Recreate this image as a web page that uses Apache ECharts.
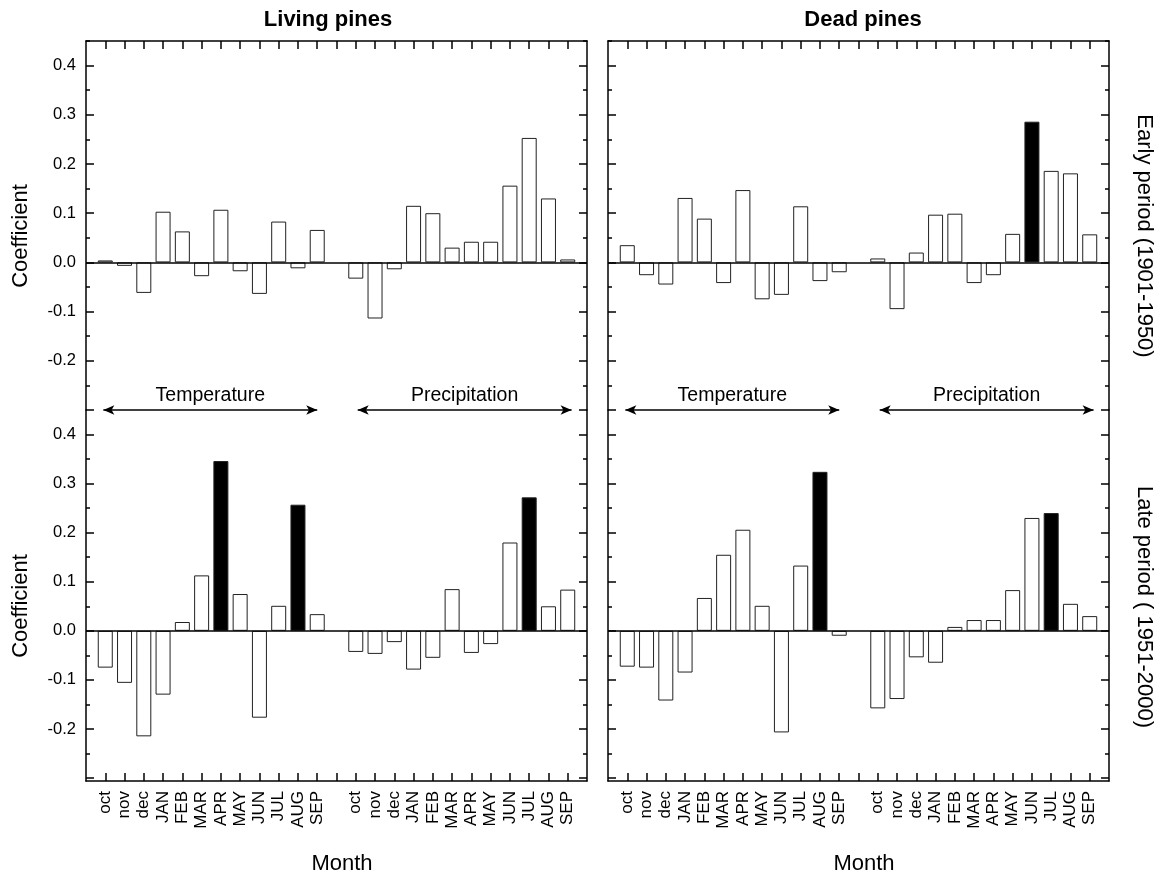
<!DOCTYPE html>
<html>
<head>
<meta charset="utf-8">
<script src="https://cdn.jsdelivr.net/npm/echarts@6/dist/echarts.min.js"></script>
<style>
html,body{margin:0;padding:0;background:#fff;}
#chart{width:1156px;height:875px;}
</style>
</head>
<body>
<div id="chart"></div>
<script>
// ---- Data ----
const months = ['oct','nov','dec','JAN','FEB','MAR','APR','MAY','JUN','JUL','AUG','SEP'];

const livingEarlyTemp = [0.004,-0.007,-0.062,0.103,0.063,-0.028,0.107,-0.018,-0.064,0.083,-0.012,0.066];
const livingEarlyPrec = [-0.033,-0.114,-0.014,0.115,0.100,0.030,0.042,0.042,0.156,0.253,0.130,0.006];
const deadEarlyTemp   = [0.035,-0.026,-0.045,0.131,0.089,-0.042,0.147,-0.075,-0.066,0.114,-0.038,-0.020];
const deadEarlyPrec   = [0.008,-0.095,0.020,0.097,0.099,-0.042,-0.026,0.058,0.286,0.186,0.181,0.057];
const livingLateTemp  = [-0.075,-0.106,-0.215,-0.130,0.018,0.113,0.346,0.075,-0.177,0.051,0.257,0.034];
const livingLatePrec  = [-0.043,-0.047,-0.023,-0.079,-0.055,0.085,-0.045,-0.027,0.180,0.272,0.050,0.084];
const deadLateTemp    = [-0.073,-0.075,-0.142,-0.085,0.067,0.155,0.206,0.051,-0.207,0.133,0.324,-0.010];
const deadLatePrec    = [-0.158,-0.139,-0.054,-0.065,0.008,0.022,0.022,0.083,0.230,0.240,0.055,0.030];

// significant (black) bars
const sigLivingEarlyTemp = [];
const sigLivingEarlyPrec = [];
const sigDeadEarlyTemp = [];
const sigDeadEarlyPrec = ['JUN'];
const sigLivingLateTemp = ['APR','AUG'];
const sigLivingLatePrec = ['JUL'];
const sigDeadLateTemp = ['AUG'];
const sigDeadLatePrec = ['JUL'];

const yMajorTicks = [-0.3,-0.2,-0.1,0,0.1,0.2,0.3,0.4];
const yMinorTicks = [-0.25,-0.15,-0.05,0.05,0.15,0.25,0.35,0.45];
const yLabelTicks = [-0.2,-0.1,0,0.1,0.2,0.3,0.4];

const groupNames = ['Temperature','Precipitation'];
const colTitles = ['Living pines','Dead pines'];
const rowTitles = ['Early period (1901-1950)','Late period ( 1951-2000)'];

// ---- Layout ----
const FONT = "'Liberation Sans', Arial, Helvetica, sans-serif";
const tempPos = months.map((m,i)=>i+1);     // 1..12
const precPos = months.map((m,i)=>i+14);    // 14..25
const allTickX = []; for (let k=1;k<=25;k++) allTickX.push(k);
const labelX = tempPos.concat(precPos);
const labelMap = {};
tempPos.forEach((p,i)=>labelMap[p]=months[i]);
precPos.forEach((p,i)=>labelMap[p]=months[i]);

const panels = [
  {grid:{left:86, top:41, width:501, height:369}, early:true, labels:true, min:-0.3, max:0.45,
   temp:livingEarlyTemp, prec:livingEarlyPrec, sigT:sigLivingEarlyTemp, sigP:sigLivingEarlyPrec},
  {grid:{left:86, top:410, width:501, height:371}, early:false, labels:true, min:-0.306, max:0.45,
   temp:livingLateTemp, prec:livingLatePrec, sigT:sigLivingLateTemp, sigP:sigLivingLatePrec},
  {grid:{left:608, top:41, width:501, height:369}, early:true, labels:false, min:-0.3, max:0.45,
   temp:deadEarlyTemp, prec:deadEarlyPrec, sigT:sigDeadEarlyTemp, sigP:sigDeadEarlyPrec},
  {grid:{left:608, top:410, width:501, height:371}, early:false, labels:false, min:-0.306, max:0.45,
   temp:deadLateTemp, prec:deadLatePrec, sigT:sigDeadLateTemp, sigP:sigDeadLatePrec}
];

const lineS = {color:'#000', width:1.5};
const grids = [], xAxes = [], yAxes = [], series = [];

panels.forEach((p, i) => {
  grids.push(Object.assign({containLabel:false}, p.grid));
  xAxes.push({
    type:'value', gridIndex:i, min:0, max:26, position: p.early ? 'top' : 'bottom',
    axisLine:{show:true, onZero:false, lineStyle:lineS},
    axisTick:{show:true, inside:true, length:8, customValues:allTickX, lineStyle:lineS},
    axisLabel: p.early ? {show:false} : {
      show:true, rotate:90, customValues:labelX, margin:10,
      formatter:(v)=>labelMap[Math.round(v)] || '',
      fontSize:17, color:'#000', fontFamily:FONT
    },
    splitLine:{show:false}
  });
  const mkY = (pos, major) => ({
    type:'value', gridIndex:i, min:p.min, max:p.max, position:pos,
    axisLine:{show:major, onZero:false, lineStyle:lineS},
    axisTick:{show:true, inside:true, length: major ? 8 : 4,
      customValues: major ? yMajorTicks : yMinorTicks, lineStyle:lineS},
    axisLabel: (major && pos==='left' && p.labels) ? {
      show:true, customValues:yLabelTicks, margin:10,
      formatter:(v)=>v.toFixed(1), fontSize:16.5, color:'#000', fontFamily:FONT
    } : {show:false},
    splitLine:{show:false}
  });
  yAxes.push(mkY('left', true), mkY('left', false), mkY('right', true), mkY('right', false));

  const items = [];
  p.temp.forEach((v,k)=>items.push({value:[tempPos[k], v],
    itemStyle:{color: p.sigT.includes(months[k]) ? '#000' : '#fff'}}));
  p.prec.forEach((v,k)=>items.push({value:[precPos[k], v],
    itemStyle:{color: p.sigP.includes(months[k]) ? '#000' : '#fff'}}));

  const mlData = [{yAxis:0, lineStyle:{color:'#000', width:1.5, type:'solid'}, label:{show:false}}];
  if (p.early) {
    const spans = [[0.9, 12.0], [14.1, 25.2]];
    spans.forEach((s, g) => {
      mlData.push([
        {coord:[s[0], p.min], symbol:'arrow', symbolSize:[7,11],
         lineStyle:{color:'#000', width:1.5, type:'solid'},
         label:{show:true, position:'middle', formatter:groupNames[g], fontSize:19.5,
                color:'#000', fontFamily:FONT, distance:4}},
        {coord:[s[1], p.min], symbol:'arrow', symbolSize:[7,11]}
      ]);
    });
  }

  series.push({
    type:'bar', xAxisIndex:i, yAxisIndex:4*i, barWidth:15, clip:false,
    itemStyle:{borderColor:'#222', borderWidth:1},
    emphasis:{disabled:true},
    data:items,
    markLine:{silent:true, animation:false, symbol:['none','none'], data:mlData}
  });
});

const texts = [];
const txt = (t, x, y, size, rot, bold) => ({
  type:'text', x:x, y:y, rotation:rot||0, silent:true,
  style:{text:t, fill:'#000', font:(bold?'bold ':'') + size + 'px ' + FONT,
         textAlign:'center', textVerticalAlign:'middle', align:'center', verticalAlign:'middle'}
});
texts.push(txt(colTitles[0], 328, 20, 22, 0, true));
texts.push(txt(colTitles[1], 863, 20, 22, 0, true));
texts.push(txt('Coefficient', 21, 236, 22, Math.PI/2));
texts.push(txt('Coefficient', 21, 606, 22, Math.PI/2));
texts.push(txt(rowTitles[0], 1144, 236, 22, -Math.PI/2));
texts.push(txt(rowTitles[1], 1144, 607, 22, -Math.PI/2));
texts.push(txt('Month', 342, 864, 22));
texts.push(txt('Month', 864, 864, 22));

const chart = echarts.init(document.getElementById('chart'), null, {renderer:'canvas'});
chart.setOption({
  animation:false,
  backgroundColor:'#fff',
  grid:grids, xAxis:xAxes, yAxis:yAxes, series:series,
  graphic:{elements:texts}
});
</script>
</body>
</html>
